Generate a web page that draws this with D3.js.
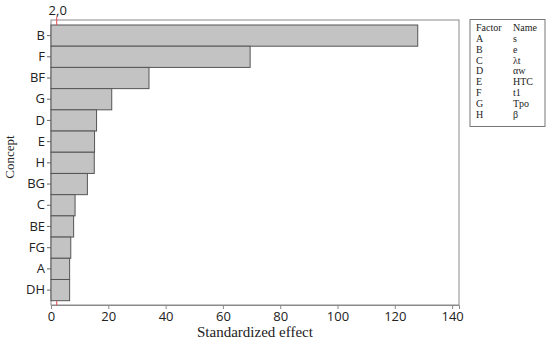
<!DOCTYPE html>
<html>
<head>
<meta charset="utf-8">
<script src="https://cdnjs.cloudflare.com/ajax/libs/d3/7.8.5/d3.min.js"></script>
<style>
    body { margin: 0; background: #fff; }
    .tick text { font-family: 'Open Sans', 'DejaVu Sans', sans-serif; font-size: 13px; fill: #222; }
    .axis-label { font-family: 'Liberation Serif', 'DejaVu Serif', serif; fill: #222; }
    .legend text { font-family: 'Liberation Serif', serif; font-size: 10px; fill: #222; }
</style>
</head>
<body>
<div id="chart"></div>
<script>
var terms = ['B', 'F', 'BF', 'G', 'D', 'E', 'H', 'BG', 'C', 'BE', 'FG', 'A', 'DH']
var effects = [128, 69.5, 34.2, 21.2, 15.9, 15.2, 15.1, 12.7, 8.4, 7.9, 6.9, 6.5, 6.5]
var xTicks = [0, 20, 40, 60, 80, 100, 120, 140]
var refValue = 2.0
var refLabel = '2,0'
var factors = ['A', 'B', 'C', 'D', 'E', 'F', 'G', 'H']
var factorNames = ['s', 'e', 'λt', 'αw', 'HTC', 't1', 'Tpo', 'β']

var W = 550, H = 347
var plot = { left: 51, right: 459, top: 20, bottom: 305 }

var svg = d3.select('#chart').append('svg')
    .attr('width', W)
    .attr('height', H)

var x = d3.scaleLinear()
    .domain([0, 142.4])
    .range([plot.left, plot.right])

var y = d3.scaleBand()
    .domain(terms)
    .range([plot.top + 5, plot.bottom - 4.3])
    .padding(0)

// frame
svg.append('rect')
    .attr('x', plot.left)
    .attr('y', plot.top)
    .attr('width', plot.right - plot.left)
    .attr('height', plot.bottom - plot.top)
    .attr('fill', 'none')
    .attr('stroke', '#8a8a8a')
    .attr('stroke-width', 1)

// bars
svg.selectAll('.bar')
    .data(terms)
    .enter().append('rect')
    .attr('class', 'bar')
    .attr('x', x(0))
    .attr('y', function (d) { return y(d) })
    .attr('width', function (d, i) { return x(effects[i]) - x(0) })
    .attr('height', y.bandwidth())
    .attr('fill', '#c3c3c3')
    .attr('stroke', '#555')
    .attr('stroke-width', 1)

// axes
var xAxis = d3.axisBottom(x).tickValues(xTicks).tickSize(4).tickPadding(3)
svg.append('g')
    .attr('transform', 'translate(0,' + plot.bottom + ')')
    .call(xAxis)
    .call(function (g) {
        g.select('.domain').attr('stroke', '#8a8a8a')
        g.selectAll('.tick line').attr('stroke', '#8a8a8a')
    })

var yAxis = d3.axisLeft(y).tickSize(4).tickPadding(2)
svg.append('g')
    .attr('transform', 'translate(' + plot.left + ',0)')
    .call(yAxis)
    .call(function (g) {
        g.select('.domain').remove()
        g.selectAll('.tick line').attr('stroke', '#666')
    })

// reference marks at 2,0
svg.append('line')
    .attr('x1', x(refValue)).attr('x2', x(refValue))
    .attr('y1', plot.top - 3).attr('y2', plot.top + 5)
    .attr('stroke', '#e8474f').attr('stroke-width', 1)
svg.append('line')
    .attr('x1', x(refValue)).attr('x2', x(refValue))
    .attr('y1', plot.bottom - 4).attr('y2', plot.bottom)
    .attr('stroke', '#e8474f').attr('stroke-width', 1)
svg.append('text')
    .attr('x', x(refValue) + 1)
    .attr('y', 15)
    .attr('text-anchor', 'middle')
    .style('font-family', "'Open Sans', 'DejaVu Sans', sans-serif")
    .style('font-size', '13px')
    .style('fill', '#222')
    .text(refLabel)

// axis titles
svg.append('text')
    .attr('class', 'axis-label')
    .attr('x', 255)
    .attr('y', 337)
    .attr('text-anchor', 'middle')
    .style('font-size', '15px')
    .text('Standardized effect')

svg.append('text')
    .attr('class', 'axis-label')
    .attr('transform', 'translate(14,157) rotate(-90)')
    .attr('text-anchor', 'middle')
    .style('font-size', '13px')
    .text('Concept')

// legend box
var legend = svg.append('g').attr('class', 'legend')
legend.append('rect')
    .attr('x', 470).attr('y', 19.5)
    .attr('width', 75).attr('height', 107)
    .attr('fill', 'none')
    .attr('stroke', '#777')
legend.append('text').attr('x', 476).attr('y', 31).text('Factor')
legend.append('text').attr('x', 513).attr('y', 31).text('Name')
factors.forEach(function (f, i) {
    legend.append('text').attr('x', 476).attr('y', 42 + i * 10.8).text(f)
    legend.append('text').attr('x', 513).attr('y', 42 + i * 10.8).text(factorNames[i])
})
</script>
</body>
</html>
